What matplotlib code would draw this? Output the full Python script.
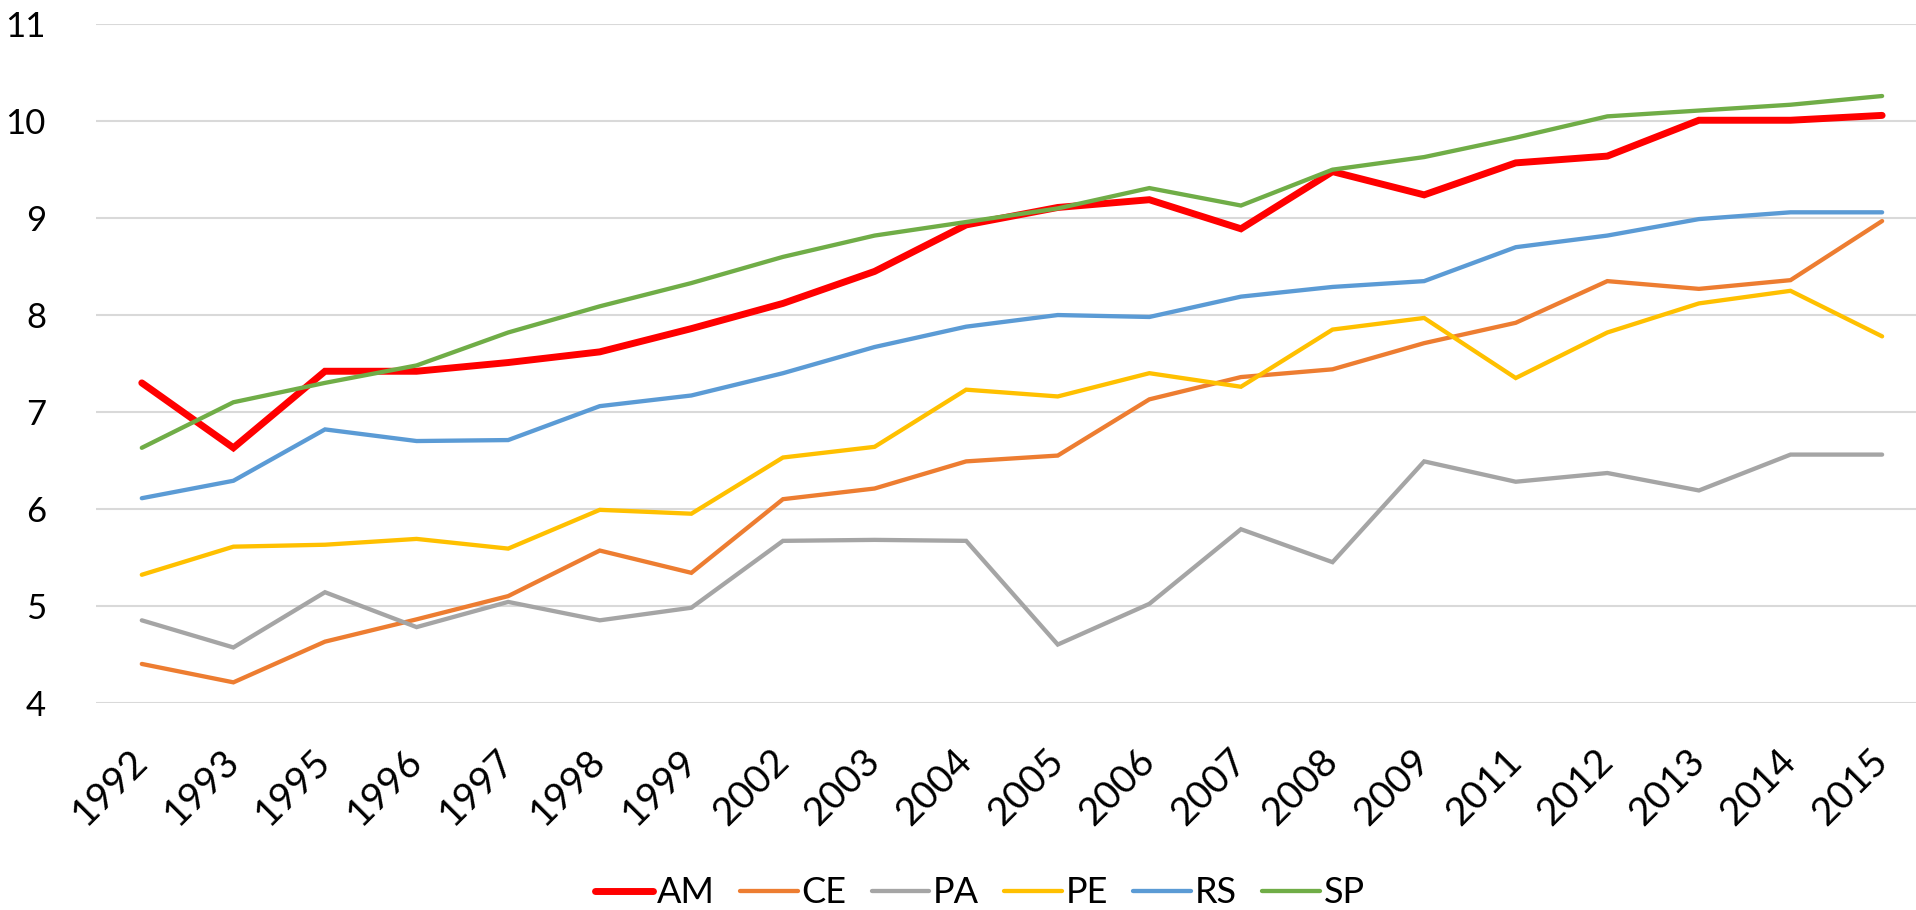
import numpy as np
import matplotlib.pyplot as plt

plt.rcParams['font.family'] = ['Lato', 'DejaVu Sans']

years = ['1992', '1993', '1995', '1996', '1997', '1998', '1999', '2002', '2003', '2004',
         '2005', '2006', '2007', '2008', '2009', '2011', '2012', '2013', '2014', '2015']

am = [7.30, 6.63, 7.42, 7.42, 7.51, 7.62, 7.86, 8.12, 8.45, 8.93,
      9.11, 9.19, 8.89, 9.48, 9.24, 9.57, 9.64, 10.01, 10.01, 10.06]
ce = [4.40, 4.21, 4.63, 4.86, 5.10, 5.57, 5.34, 6.10, 6.21, 6.49,
      6.55, 7.13, 7.36, 7.44, 7.71, 7.92, 8.35, 8.27, 8.36, 8.97]
pa = [4.85, 4.57, 5.14, 4.78, 5.04, 4.85, 4.98, 5.67, 5.68, 5.67,
      4.60, 5.02, 5.79, 5.45, 6.49, 6.28, 6.37, 6.19, 6.56, 6.56]
pe = [5.32, 5.61, 5.63, 5.69, 5.59, 5.99, 5.95, 6.53, 6.64, 7.23,
      7.16, 7.40, 7.26, 7.85, 7.97, 7.35, 7.82, 8.12, 8.25, 7.78]
rs = [6.11, 6.29, 6.82, 6.70, 6.71, 7.06, 7.17, 7.40, 7.67, 7.88,
      8.00, 7.98, 8.19, 8.29, 8.35, 8.70, 8.82, 8.99, 9.06, 9.06]
sp = [6.63, 7.10, 7.30, 7.48, 7.82, 8.09, 8.33, 8.60, 8.82, 8.96,
      9.10, 9.31, 9.13, 9.50, 9.63, 9.83, 10.05, 10.11, 10.17, 10.26]

series = [('AM', am, '#FF0000', 5.0),
          ('CE', ce, '#ED7D31', 3.1),
          ('PA', pa, '#A5A5A5', 3.1),
          ('PE', pe, '#FFC000', 3.1),
          ('RS', rs, '#5B9BD5', 3.1),
          ('SP', sp, '#70AD47', 3.1)]

fig = plt.figure(figsize=(19.16, 9.10), dpi=100)
ax = fig.add_axes([96 / 1916, 0.2278, 1 - 96 / 1916, 0.9733 - 0.2278])

x = np.arange(len(years))
for name, vals, color, lw in series:
    ax.plot(x, vals, color=color, linewidth=lw, label=name,
            solid_capstyle='round', solid_joinstyle='miter')

ax.set_xlim(-0.5, 19.37)
ax.set_ylim(4, 11)
ax.set_yticks(range(4, 12))
ax.set_xticks(x)
ax.set_xticklabels(years, rotation=45, ha='right', va='center', rotation_mode='anchor')
ax.tick_params(axis='y', length=0, labelsize=25, pad=36)
ax.tick_params(axis='x', length=0, labelsize=28, pad=38)
ax.grid(axis='y', color='#D9D9D9', linewidth=1.5)
ax.set_axisbelow(True)
for s in ax.spines.values():
    s.set_visible(False)

fig.legend(loc='lower center', bbox_to_anchor=(980 / 1916, -0.035), ncol=6,
           frameon=False, fontsize=26, handlelength=1.6, handletextpad=0.1,
           columnspacing=0.7)

fig.savefig('out.png', dpi=100)
